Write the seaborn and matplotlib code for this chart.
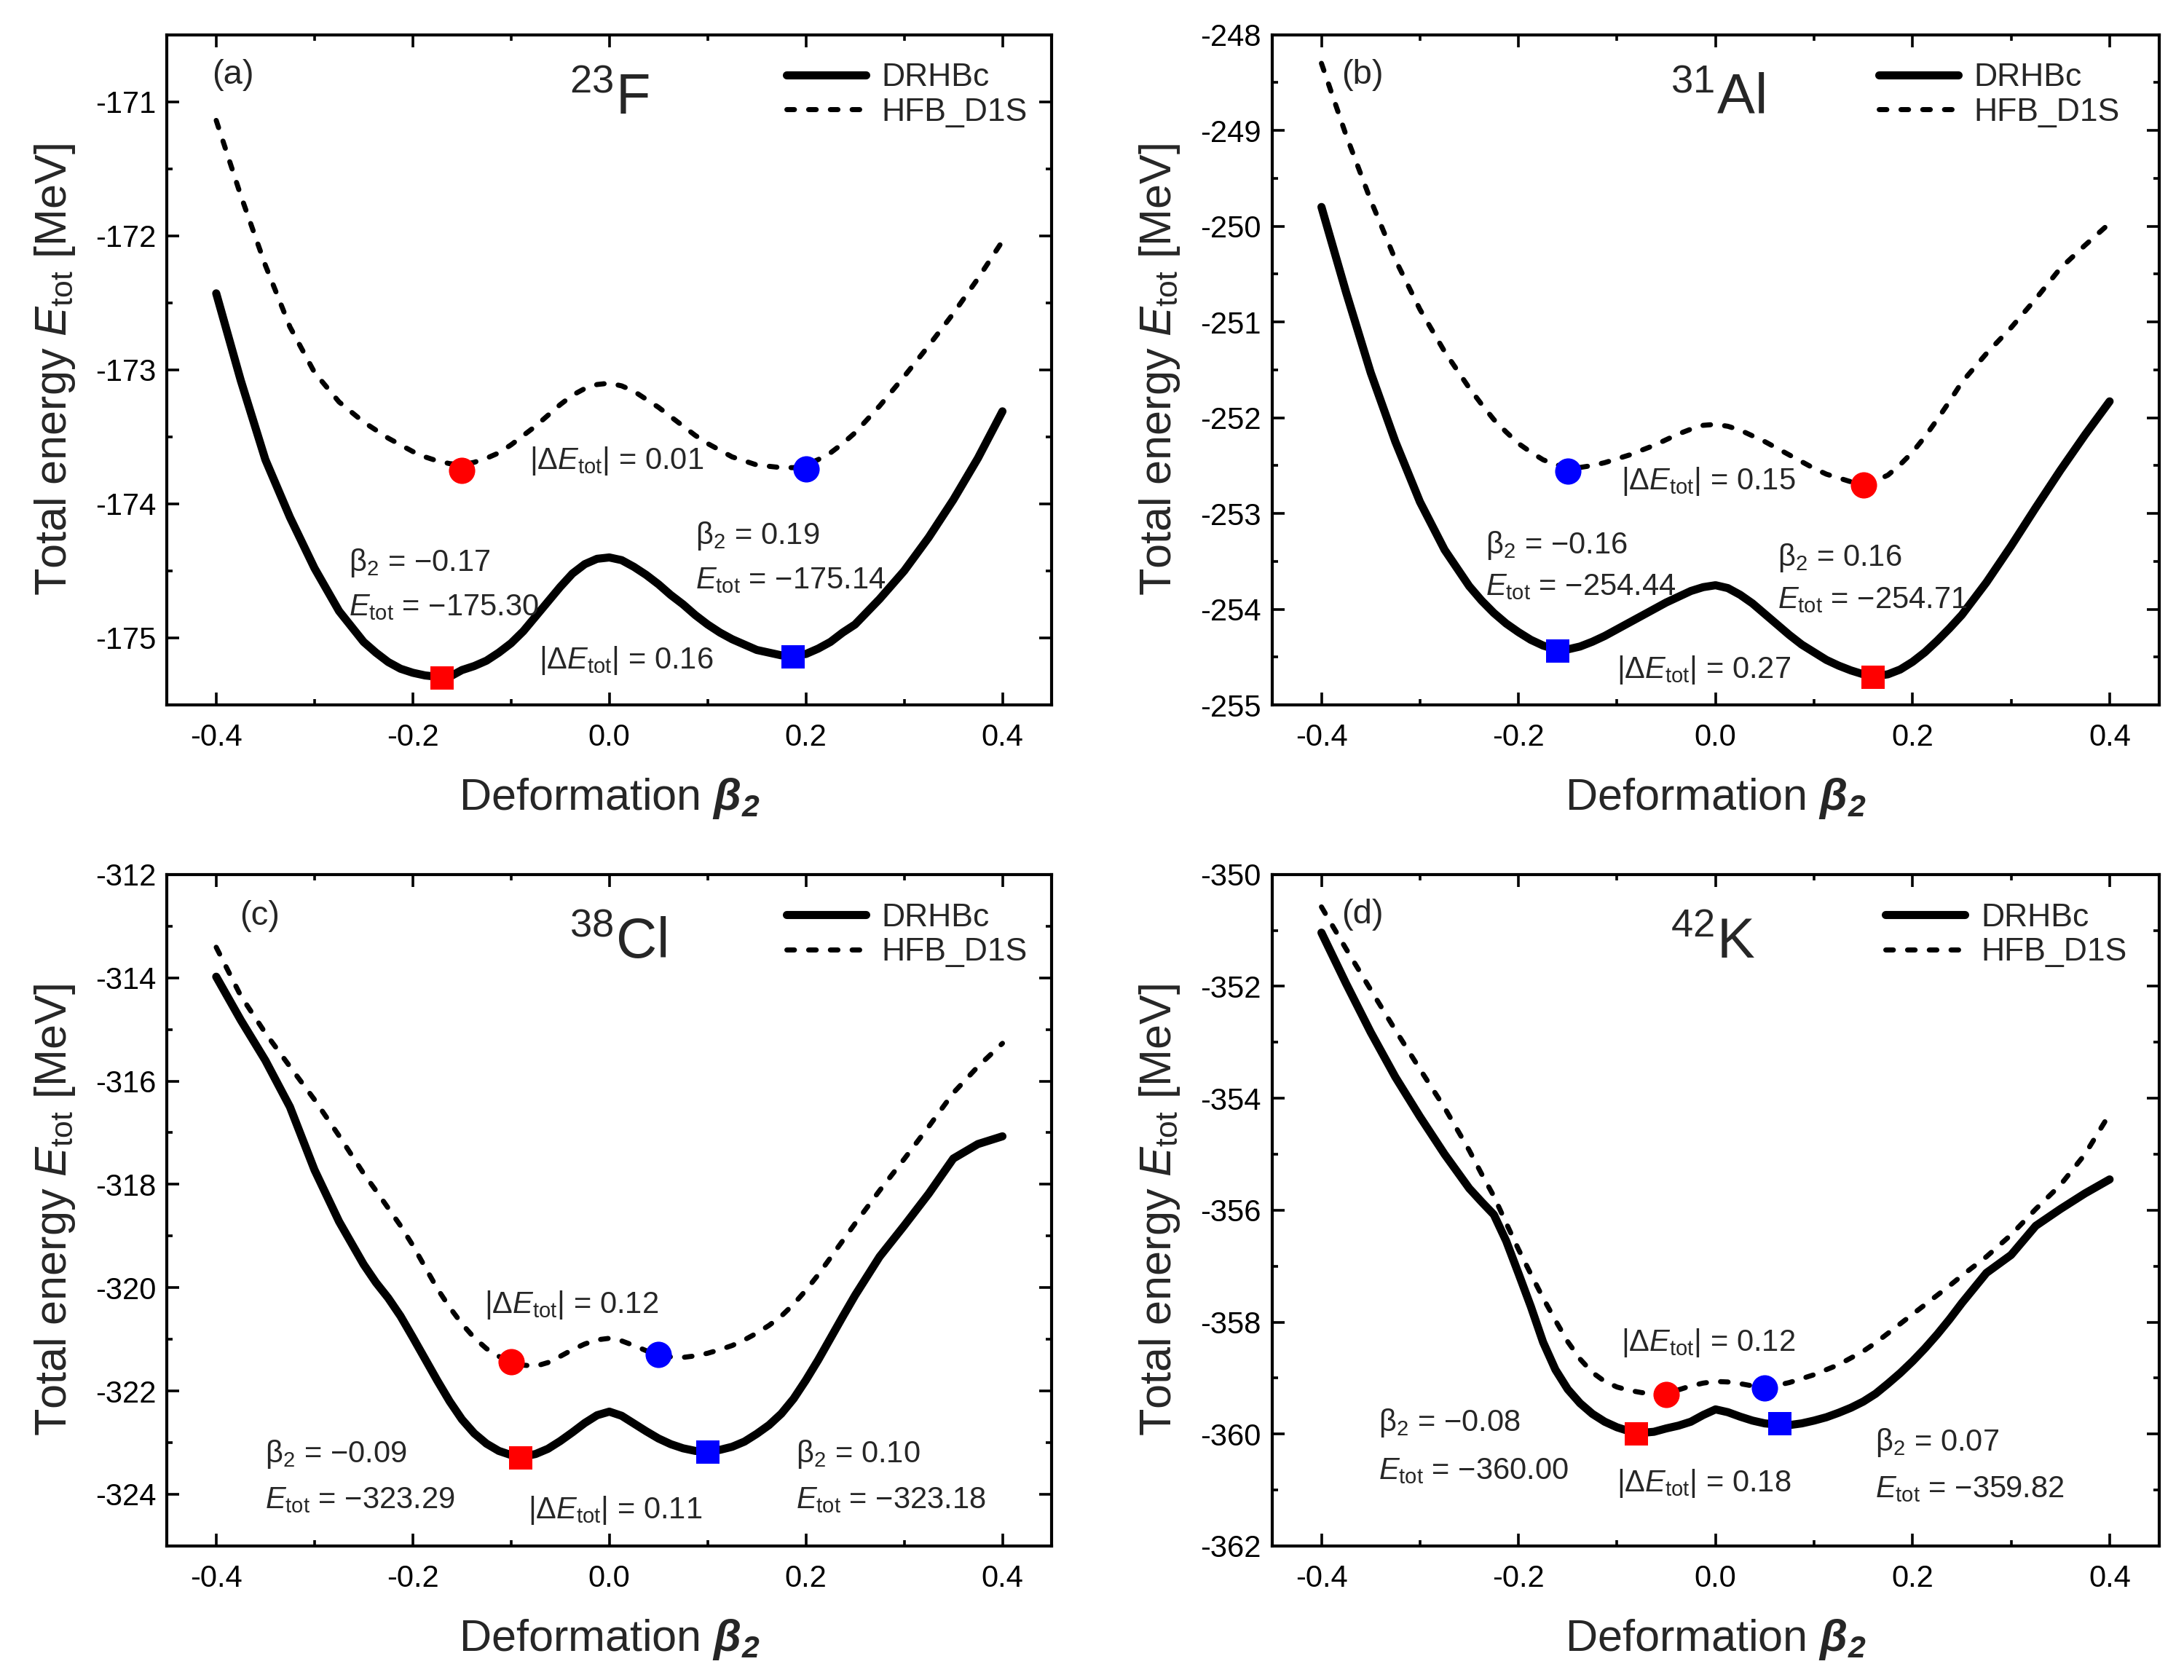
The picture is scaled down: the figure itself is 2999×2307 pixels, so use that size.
import numpy as np
import pandas as pd
import matplotlib
matplotlib.use("Agg")
import matplotlib.pyplot as plt
import seaborn as sns
from matplotlib.ticker import MultipleLocator

# Deformação beta2 (grade comum; mais fina perto dos mínimos)
beta = [-0.400, -0.375, -0.350, -0.325, -0.300, -0.275, -0.250,
        -0.2375, -0.225, -0.2125, -0.200, -0.1875, -0.175, -0.1625, -0.150, -0.1375,
        -0.125, -0.1125, -0.100, -0.0875, -0.075, -0.0625, -0.050, -0.0375, -0.025,
        -0.0125, 0.000, 0.0125, 0.025, 0.0375, 0.050, 0.0625, 0.075, 0.0875, 0.100,
        0.1125, 0.125, 0.1375, 0.150, 0.1625, 0.175, 0.1875, 0.200, 0.2125, 0.225, 0.2375,
        0.250, 0.275, 0.300, 0.325, 0.350, 0.375, 0.400]

# (a) 23F
f23_drhbc = [-172.43, -173.08, -173.67, -174.10, -174.48, -174.80, -175.03,
             -175.11, -175.18, -175.23, -175.26, -175.28, -175.29, -175.29, -175.24, -175.21,
             -175.17, -175.11, -175.04, -174.95, -174.84, -174.73, -174.62, -174.52, -174.45,
             -174.41, -174.40, -174.42, -174.47, -174.53, -174.60, -174.68, -174.75, -174.83, -174.90,
             -174.96, -175.01, -175.05, -175.09, -175.11, -175.13, -175.13, -175.12, -175.08, -175.03, -174.96,
             -174.90, -174.71, -174.50, -174.25, -173.97, -173.66, -173.31]
f23_hfb = [-171.14, -171.70, -172.22, -172.68, -173.02, -173.24, -173.39,
           -173.45, -173.51, -173.56, -173.61, -173.65, -173.68, -173.70, -173.71, -173.69,
           -173.66, -173.62, -173.56, -173.49, -173.42, -173.34, -173.26, -173.19, -173.14,
           -173.11, -173.10, -173.12, -173.16, -173.22, -173.28, -173.35, -173.42, -173.49, -173.55,
           -173.60, -173.65, -173.68, -173.71, -173.72, -173.73, -173.73, -173.71, -173.67, -173.62, -173.55,
           -173.47, -173.27, -173.05, -172.82, -172.58, -172.32, -172.04]

# (b) 31Al
al31_drhbc = [-249.80, -250.69, -251.53, -252.25, -252.88, -253.38, -253.76,
              -253.91, -254.04, -254.15, -254.24, -254.32, -254.38, -254.42, -254.42, -254.39,
              -254.34, -254.28, -254.21, -254.14, -254.07, -254.00, -253.93, -253.87, -253.81,
              -253.77, -253.75, -253.78, -253.85, -253.94, -254.05, -254.16, -254.27, -254.37, -254.45,
              -254.53, -254.59, -254.64, -254.68, -254.70, -254.68, -254.63, -254.55, -254.45, -254.33, -254.20,
              -254.06, -253.72, -253.34, -252.94, -252.55, -252.18, -251.83]
al31_hfb = [-248.30, -249.05, -249.73, -250.35, -250.87, -251.31, -251.69,
            -251.86, -252.02, -252.15, -252.27, -252.36, -252.44, -252.49, -252.52, -252.52,
            -252.50, -252.47, -252.43, -252.39, -252.34, -252.29, -252.23, -252.17, -252.12,
            -252.08, -252.07, -252.09, -252.13, -252.19, -252.25, -252.32, -252.39, -252.46, -252.53,
            -252.59, -252.63, -252.67, -252.68, -252.66, -252.60, -252.49, -252.36, -252.20, -252.02, -251.83,
            -251.63, -251.33, -251.06, -250.76, -250.44, -250.20, -249.97]

# (c) 38Cl
cl38_drhbc = [-313.98, -314.82, -315.60, -316.50, -317.72, -318.72, -319.55,
              -319.90, -320.20, -320.55, -320.96, -321.38, -321.80, -322.20, -322.55, -322.82,
              -323.02, -323.16, -323.24, -323.27, -323.22, -323.12, -322.97, -322.80, -322.62,
              -322.47, -322.40, -322.48, -322.63, -322.78, -322.92, -323.03, -323.11, -323.16, -323.17,
              -323.14, -323.08, -322.98, -322.83, -322.66, -322.44, -322.15, -321.79, -321.40, -320.98, -320.56,
              -320.15, -319.40, -318.80, -318.18, -317.50, -317.22, -317.07]
cl38_hfb = [-313.41, -314.35, -315.07, -315.72, -316.36, -317.06, -317.79,
            -318.12, -318.46, -318.80, -319.18, -319.60, -320.02, -320.38, -320.70, -320.97,
            -321.18, -321.33, -321.43, -321.50, -321.52, -321.45, -321.33, -321.20, -321.09,
            -321.01, -320.98, -321.03, -321.12, -321.22, -321.30, -321.34, -321.35, -321.32, -321.27,
            -321.20, -321.12, -321.01, -320.88, -320.73, -320.55, -320.32, -320.05, -319.75, -319.42, -319.09,
            -318.76, -318.12, -317.51, -316.88, -316.23, -315.72, -315.27]

# (d) 42K
k42_drhbc = [-351.04, -351.95, -352.82, -353.62, -354.33, -355.00, -355.61,
             -355.85, -356.08, -356.55, -357.13, -357.72, -358.36, -358.85, -359.20, -359.45,
             -359.64, -359.78, -359.88, -359.95, -359.98, -359.96, -359.90, -359.85, -359.78,
             -359.66, -359.56, -359.61, -359.69, -359.76, -359.81, -359.83, -359.84, -359.81, -359.76,
             -359.70, -359.62, -359.53, -359.42, -359.28, -359.10, -358.91, -358.70, -358.47, -358.22, -357.95,
             -357.66, -357.12, -356.80, -356.28, -355.98, -355.70, -355.45]
k42_hfb = [-350.58, -351.33, -352.06, -352.78, -353.48, -354.17, -354.93,
           -355.35, -355.75, -356.23, -356.70, -357.14, -357.57, -357.97, -358.35, -358.66,
           -358.90, -359.06, -359.16, -359.22, -359.26, -359.28, -359.27, -359.21, -359.14,
           -359.09, -359.06, -359.07, -359.10, -359.14, -359.16, -359.13, -359.08, -359.01, -358.94,
           -358.85, -358.76, -358.64, -358.52, -358.37, -358.20, -358.03, -357.86, -357.69, -357.52, -357.35,
           -357.17, -356.83, -356.44, -355.98, -355.55, -355.00, -354.28]

# Mínimos marcados: (beta, energia) - quadrado = DRHBc, círculo = HFB
min_a = {"red_sq": (-0.17, -175.30), "blue_sq": (0.187, -175.14),
         "red_ci": (-0.15, -173.75), "blue_ci": (0.20, -173.74)}
min_b = {"red_sq": (0.16, -254.71), "blue_sq": (-0.16, -254.44),
         "red_ci": (0.15, -252.70), "blue_ci": (-0.15, -252.56)}
min_c = {"red_sq": (-0.09, -323.29), "blue_sq": (0.10, -323.18),
         "red_ci": (-0.10, -321.43), "blue_ci": (0.05, -321.30)}
min_d = {"red_sq": (-0.08, -360.00), "blue_sq": (0.065, -359.82),
         "red_ci": (-0.05, -359.30), "blue_ci": (0.05, -359.18)}

nucleos = ["$^{23}$F", "$^{31}$Al", "$^{38}$Cl", "$^{42}$K"]
paineis = ["(a)", "(b)", "(c)", "(d)"]

sns.set_theme(style="ticks")
plt.rcParams.update({
    "font.family": ["Liberation Sans", "DejaVu Sans"],
    "mathtext.fontset": "custom",
    "mathtext.rm": "Liberation Sans",
    "mathtext.it": "Liberation Sans:italic",
    "mathtext.bf": "Liberation Sans:bold:italic",
    "axes.unicode_minus": False,
    "axes.linewidth": 1.5,
    "axes.edgecolor": "black",
})

fig = plt.figure(figsize=(14.995, 11.535), dpi=200)
rects = [[0.0765, 0.5804, 0.405, 0.3990],
         [0.5825, 0.5804, 0.406, 0.3990],
         [0.0765, 0.0798, 0.405, 0.3997],
         [0.5825, 0.0798, 0.406, 0.3997]]


def texto(ax, x, y, s):
    ax.text(x, y, s, fontsize=15, ha="left", va="baseline", zorder=5)


def painel(ax, drhbc, hfb, minimos, ylim, ymaj, ymin, nome, letra, pos_letra, pos_nome, pos_leg):
    sns.lineplot(x=beta, y=drhbc, ax=ax, color="black", lw=4, sort=False,
                 estimator=None, label="DRHBc", solid_capstyle="round",
                 solid_joinstyle="round")
    sns.lineplot(x=beta, y=hfb, ax=ax, color="black", lw=2.5, sort=False,
                 estimator=None, label="HFB_D1S", linestyle=(0, (1.5, 2.8)),
                 dash_capstyle="round", dash_joinstyle="round")
    for chave, cor, mk, tam in [("red_sq", "red", "s", 132), ("blue_sq", "blue", "s", 132),
                                ("red_ci", "red", "o", 169), ("blue_ci", "blue", "o", 169)]:
        bx, by = minimos[chave]
        sns.scatterplot(x=[bx], y=[by], ax=ax, color=cor, marker=mk, s=tam,
                        linewidth=0, zorder=4)
    ax.set_xlim(-0.45, 0.45)
    ax.set_ylim(*ylim)
    ax.xaxis.set_major_locator(MultipleLocator(0.2))
    ax.xaxis.set_minor_locator(MultipleLocator(0.1))
    ax.yaxis.set_major_locator(MultipleLocator(ymaj))
    ax.yaxis.set_minor_locator(MultipleLocator(ymin))
    ax.tick_params(which="both", direction="in", top=True, right=True,
                   width=1.3, labelsize=15, colors="black")
    ax.tick_params(which="major", length=6)
    ax.tick_params(which="minor", length=3)
    ax.tick_params(axis="x", pad=9)
    ax.tick_params(axis="y", pad=5.5)
    for sp in ax.spines.values():
        sp.set_visible(True)
        sp.set_linewidth(1.5)
    ax.set_xlabel(r"Deformation $\mathbf{\beta_2}$", fontsize=22, labelpad=12)
    ax.set_ylabel(r"Total energy $E_{\mathrm{tot}}$ [MeV]", fontsize=22, labelpad=9)
    ax.text(pos_letra[0], pos_letra[1], letra, transform=ax.transAxes,
            fontsize=17, ha="left", va="center")
    ax.text(pos_nome[0], pos_nome[1], nome, transform=ax.transAxes,
            fontsize=28, ha="left", va="baseline")
    ax.legend(loc="upper left", bbox_to_anchor=pos_leg, frameon=False, fontsize=16,
              handlelength=2.45, handletextpad=0.5, labelspacing=0.15,
              borderpad=0, borderaxespad=0)


axs = [fig.add_axes(r) for r in rects]

# (a)
painel(axs[0], f23_drhbc, f23_hfb, min_a, (-175.5, -170.5), 1, 0.5,
       nucleos[0], paineis[0], (0.051, 0.94), (0.455, 0.8815), (0.70, 0.958))
texto(axs[0], -0.081, -173.74, r"|Δ$E_{\mathrm{tot}}$| = 0.01")
texto(axs[0], -0.265, -174.50, r"β$_2$ = −0.17")
texto(axs[0], -0.265, -174.83, r"$E_{\mathrm{tot}}$ = −175.30")
texto(axs[0], 0.088, -174.30, r"β$_2$ = 0.19")
texto(axs[0], 0.088, -174.63, r"$E_{\mathrm{tot}}$ = −175.14")
texto(axs[0], -0.072, -175.23, r"|Δ$E_{\mathrm{tot}}$| = 0.16")

# (b)
painel(axs[1], al31_drhbc, al31_hfb, min_b, (-255, -248), 1, 0.5,
       nucleos[1], paineis[1], (0.078, 0.94), (0.449, 0.8815), (0.684, 0.958))
texto(axs[1], -0.096, -252.75, r"|Δ$E_{\mathrm{tot}}$| = 0.15")
texto(axs[1], -0.233, -253.42, r"β$_2$ = −0.16")
texto(axs[1], -0.233, -253.85, r"$E_{\mathrm{tot}}$ = −254.44")
texto(axs[1], 0.063, -253.55, r"β$_2$ = 0.16")
texto(axs[1], 0.063, -253.99, r"$E_{\mathrm{tot}}$ = −254.71")
texto(axs[1], -0.100, -254.72, r"|Δ$E_{\mathrm{tot}}$| = 0.27")

# (c)
painel(axs[2], cl38_drhbc, cl38_hfb, min_c, (-325, -312), 2, 1,
       nucleos[2], paineis[2], (0.082, 0.938), (0.455, 0.875), (0.70, 0.958))
texto(axs[2], -0.127, -320.49, r"|Δ$E_{\mathrm{tot}}$| = 0.12")
texto(axs[2], -0.350, -323.38, r"β$_2$ = −0.09")
texto(axs[2], -0.350, -324.27, r"$E_{\mathrm{tot}}$ = −323.29")
texto(axs[2], -0.083, -324.47, r"|Δ$E_{\mathrm{tot}}$| = 0.11")
texto(axs[2], 0.190, -323.38, r"β$_2$ = 0.10")
texto(axs[2], 0.190, -324.27, r"$E_{\mathrm{tot}}$ = −323.18")

# (d)
painel(axs[3], k42_drhbc, k42_hfb, min_d, (-362, -350), 2, 1,
       nucleos[3], paineis[3], (0.078, 0.94), (0.449, 0.875), (0.692, 0.958))
texto(axs[3], -0.096, -358.51, r"|Δ$E_{\mathrm{tot}}$| = 0.12")
texto(axs[3], -0.342, -359.95, r"β$_2$ = −0.08")
texto(axs[3], -0.342, -360.81, r"$E_{\mathrm{tot}}$ = −360.00")
texto(axs[3], -0.100, -361.02, r"|Δ$E_{\mathrm{tot}}$| = 0.18")
texto(axs[3], 0.162, -360.29, r"β$_2$ = 0.07")
texto(axs[3], 0.162, -361.13, r"$E_{\mathrm{tot}}$ = −359.82")

fig.savefig("out.png", dpi=200, facecolor="white")
